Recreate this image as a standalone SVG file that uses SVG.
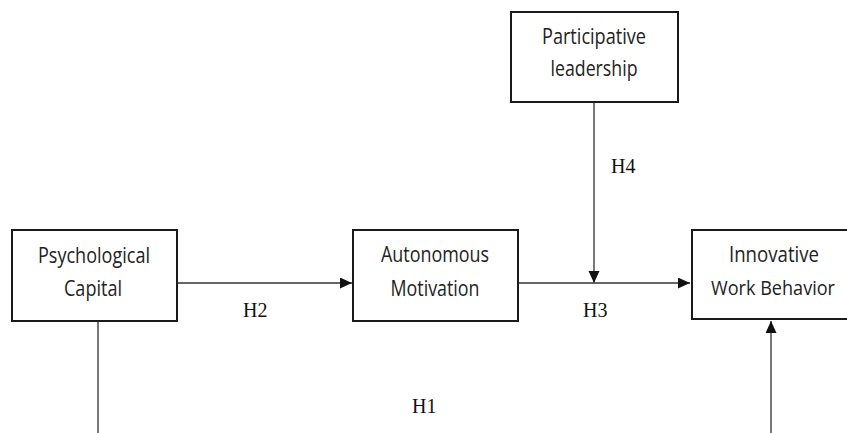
<svg xmlns="http://www.w3.org/2000/svg" width="847" height="433" viewBox="0 0 847 433">
  <style>
    .box { fill: #ffffff; stroke: #1a1a1a; stroke-width: 2; }
    .lbl { font-family: "Open Sans", "Liberation Sans", sans-serif; font-size: 21px; fill: #222222; text-anchor: middle; }
    .hyp { font-family: "Liberation Serif", "Times New Roman", serif; font-size: 20px; fill: #111111; }
    .wire { stroke: #333333; stroke-width: 1.4; fill: none; }
    .wire-soft { stroke: #555555; stroke-width: 1.6; fill: none; }
  </style>
  <defs>
    <marker id="head" markerUnits="userSpaceOnUse" markerWidth="14" markerHeight="12" refX="12" refY="5.5" orient="auto">
      <path d="M0,0 L12,5.5 L0,11 z" fill="#111111"/>
    </marker>
  </defs>
  <rect width="847" height="433" fill="#ffffff"/>

  <!-- connectors -->
  <g id="connectors">
    <line class="wire" x1="177" y1="283" x2="352" y2="283" marker-end="url(#head)"/>
    <line class="wire" x1="518" y1="283" x2="690" y2="283" marker-end="url(#head)"/>
    <line class="wire-soft" x1="594" y1="102" x2="594" y2="283" marker-end="url(#head)"/>
    <line class="wire-soft" x1="771" y1="433" x2="771" y2="321" marker-end="url(#head)"/>
    <line class="wire-soft" x1="98" y1="321" x2="98" y2="433"/>
    <text class="hyp" x="243" y="317">H2</text>
    <text class="hyp" x="583" y="317">H3</text>
    <text class="hyp" x="611" y="173">H4</text>
    <text class="hyp" x="412" y="413">H1</text>
  </g>

  <g id="psychological-capital">
    <rect class="box" x="12" y="230" width="165" height="91"/>
    <text class="lbl" x="94" y="263" textLength="112" lengthAdjust="spacingAndGlyphs">Psychological</text>
    <text class="lbl" x="93" y="296" textLength="58" lengthAdjust="spacingAndGlyphs">Capital</text>
  </g>

  <g id="autonomous-motivation">
    <rect class="box" x="353" y="230" width="165" height="91"/>
    <text class="lbl" x="435" y="262" textLength="108" lengthAdjust="spacingAndGlyphs">Autonomous</text>
    <text class="lbl" x="435" y="296" textLength="89" lengthAdjust="spacingAndGlyphs">Motivation</text>
  </g>

  <g id="participative-leadership">
    <rect class="box" x="511" y="12" width="167" height="90"/>
    <text class="lbl" x="594" y="44" textLength="104" lengthAdjust="spacingAndGlyphs">Participative</text>
    <text class="lbl" x="594" y="76" textLength="87" lengthAdjust="spacingAndGlyphs">leadership</text>
  </g>

  <g id="innovative-work-behavior">
    <!-- box runs to the right edge of the canvas, so its right side is open -->
    <path class="box" d="M847,230 H692 V319 H847"/>
    <text class="lbl" x="774" y="262" textLength="90" lengthAdjust="spacingAndGlyphs">Innovative</text>
    <text class="lbl" x="773" y="295" style="font-size:20px" textLength="124" lengthAdjust="spacingAndGlyphs">Work Behavior</text>
  </g>
</svg>
